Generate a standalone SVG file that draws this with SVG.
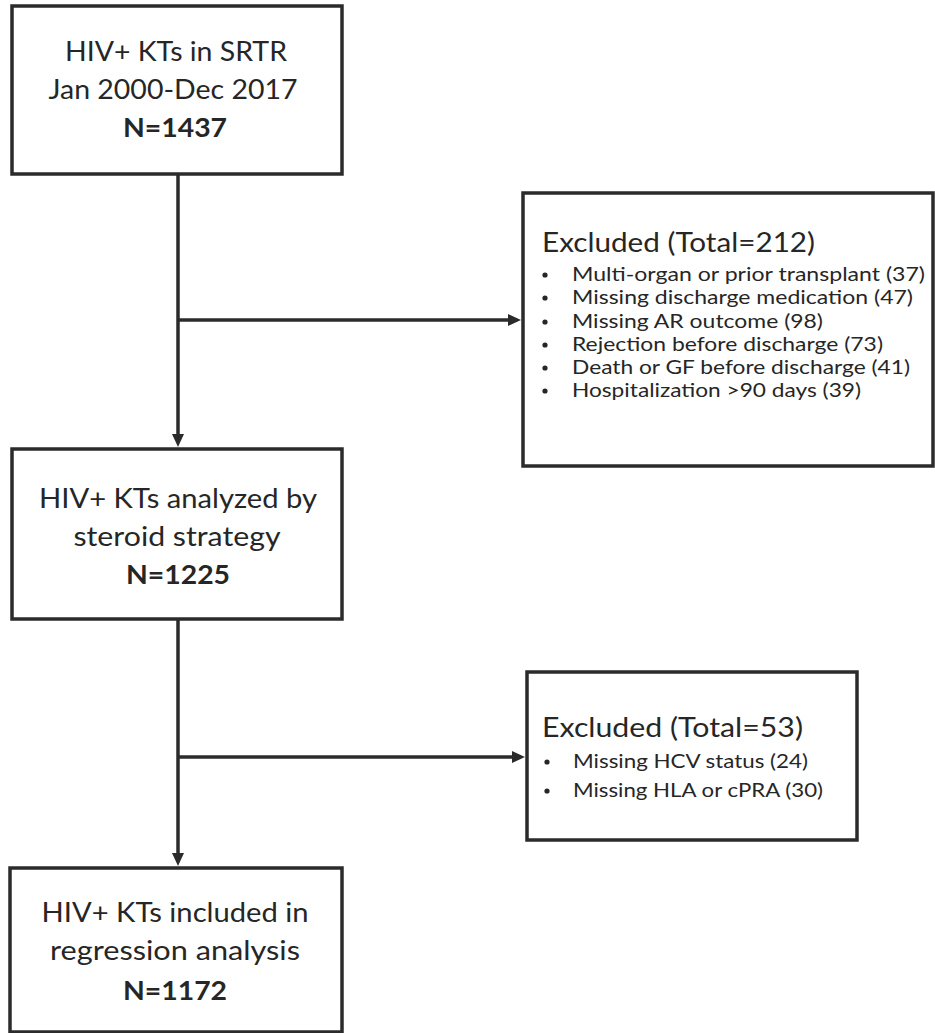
<svg xmlns="http://www.w3.org/2000/svg" width="935" height="1033" viewBox="0 0 935 1033">
<style>
.box{fill:#fff;stroke:#2b2b2b;stroke-width:3.5}
.t{font-family:Lato,"Open Sans","Liberation Sans",sans-serif;fill:#262626}
.big{font-size:27px;text-anchor:middle}
.b{font-weight:bold}
.ttl{font-size:27px}
.item{font-size:20px}
.con{stroke:#2b2b2b;stroke-width:3.5;fill:none}
.dot{fill:#262626}
</style>
<defs>
<marker id="ah" markerUnits="userSpaceOnUse" markerWidth="14" markerHeight="12" refX="0" refY="6" orient="auto" overflow="visible">
<path d="M0,0 L13,6 L0,12 Z" fill="#2b2b2b"/>
</marker>
</defs>
<rect width="935" height="1033" fill="#fff"/>
<g id="connectors">
<path class="con" d="M178,174 V434" marker-end="url(#ah)"/>
<path class="con" d="M178,320 H508" marker-end="url(#ah)"/>
<path class="con" d="M178,619 V853" marker-end="url(#ah)"/>
<path class="con" d="M178,757 H512" marker-end="url(#ah)"/>
</g>
<g id="node-srtr">
<rect class="box" x="12" y="6" width="330" height="168"/>
<text class="t big" x="176" y="61" textLength="222" lengthAdjust="spacingAndGlyphs">HIV+ KTs in SRTR</text>
<text class="t big" x="173" y="99" textLength="249" lengthAdjust="spacingAndGlyphs">Jan 2000-Dec 2017</text>
<text class="t big b" x="175" y="137" textLength="104" lengthAdjust="spacingAndGlyphs">N=1437</text>
</g>
<g id="node-excluded1">
<rect class="box" x="523" y="193" width="410" height="273"/>
<text class="t ttl" x="542" y="252" textLength="273" lengthAdjust="spacingAndGlyphs">Excluded (Total=212)</text>
<circle class="dot" cx="545" cy="275" r="2.6"/>
<circle class="dot" cx="545" cy="298" r="2.6"/>
<circle class="dot" cx="545" cy="322" r="2.6"/>
<circle class="dot" cx="545" cy="345" r="2.6"/>
<circle class="dot" cx="545" cy="368" r="2.6"/>
<circle class="dot" cx="545" cy="391" r="2.6"/>
<text class="t item" x="572" y="281" textLength="353" lengthAdjust="spacingAndGlyphs">Multi-organ or prior transplant (37)</text>
<text class="t item" x="572" y="304" textLength="341" lengthAdjust="spacingAndGlyphs">Missing discharge medication (47)</text>
<text class="t item" x="572" y="328" textLength="251" lengthAdjust="spacingAndGlyphs">Missing AR outcome (98)</text>
<text class="t item" x="572" y="351" textLength="311" lengthAdjust="spacingAndGlyphs">Rejection before discharge (73)</text>
<text class="t item" x="572" y="374" textLength="338" lengthAdjust="spacingAndGlyphs">Death or GF before discharge (41)</text>
<text class="t item" x="572" y="397" textLength="289" lengthAdjust="spacingAndGlyphs">Hospitalization &gt;90 days (39)</text>
</g>
<g id="node-analyzed">
<rect class="box" x="12" y="449" width="330" height="170"/>
<text class="t big" x="178" y="508" textLength="278" lengthAdjust="spacingAndGlyphs">HIV+ KTs analyzed by</text>
<text class="t big" x="177" y="546" textLength="207" lengthAdjust="spacingAndGlyphs">steroid strategy</text>
<text class="t big b" x="178" y="584" textLength="104" lengthAdjust="spacingAndGlyphs">N=1225</text>
</g>
<g id="node-excluded2">
<rect class="box" x="527" y="672" width="330" height="168"/>
<text class="t ttl" x="542" y="737" textLength="261" lengthAdjust="spacingAndGlyphs">Excluded (Total=53)</text>
<circle class="dot" cx="547" cy="762" r="2.6"/>
<circle class="dot" cx="547" cy="791" r="2.6"/>
<text class="t item" x="573" y="768" textLength="235" lengthAdjust="spacingAndGlyphs">Missing HCV status (24)</text>
<text class="t item" x="573" y="797" textLength="250" lengthAdjust="spacingAndGlyphs">Missing HLA or cPRA (30)</text>
</g>
<g id="node-included">
<rect class="box" x="10" y="868" width="332" height="164"/>
<text class="t big" x="175" y="922" textLength="267" lengthAdjust="spacingAndGlyphs">HIV+ KTs included in</text>
<text class="t big" x="175" y="960" textLength="250" lengthAdjust="spacingAndGlyphs">regression analysis</text>
<text class="t big b" x="175" y="1000" textLength="104" lengthAdjust="spacingAndGlyphs">N=1172</text>
</g>
</svg>
